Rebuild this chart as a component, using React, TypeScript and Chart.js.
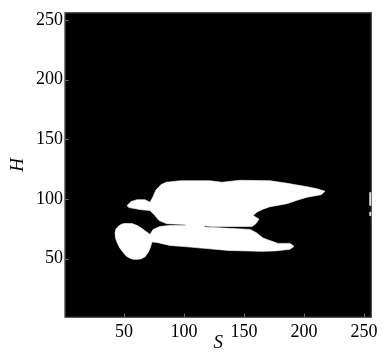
import React, { useEffect, useRef } from "react";
import { Chart, registerables } from "chart.js";

Chart.register(...registerables);

// Axis settings (image pixel indices 1..256)
const S_TICKS = [50, 100, 150, 200, 250];
const H_TICKS = [50, 100, 150, 200, 250];
const S_MIN = 0.5;
const S_MAX = 256.5;
const H_MIN = 0.5;
const H_MAX = 256.5;

// Upper white region (outline, S / H)
const UPPER_S = [52.5, 55.8, 60.8, 67.5, 71.7, 74.2, 76.7, 80.8, 85.0, 96.7, 121.7, 131.7, 146.7, 171.7, 185.8, 202.5, 210.8, 217.5, 214.2, 202.5, 194.2, 185.8, 171.7, 165.8, 160.8, 157.5, 162.5, 160.0, 156.7, 123.3, 117.5, 115.0, 103.3, 100.8, 85.8, 79.2, 75.8, 71.7, 63.3, 54.2];
const UPPER_H = [94.4, 97.8, 99.4, 99.4, 97.3, 101.9, 107.8, 111.9, 114.0, 115.3, 115.3, 114.0, 115.7, 115.3, 113.2, 110.3, 108.6, 106.5, 103.6, 101.5, 99.0, 96.1, 93.6, 91.5, 89.0, 86.1, 83.2, 79.4, 76.9, 77.0, 77.5, 75.7, 75.7, 78.6, 79.3, 81.9, 86.1, 90.3, 91.1, 92.8];

// Lower white region incl. the round lobe on the left (outline, S / H)
const LOWER_S = [74.2, 80.0, 88.3, 99.2, 117.5, 123.3, 130.0, 155.0, 160.0, 165.8, 178.3, 188.3, 191.7, 188.3, 175.8, 165.0, 136.7, 121.7, 105.0, 88.3, 77.5, 73.3, 71.7, 70.0, 67.5, 64.2, 60.8, 57.5, 55.0, 51.7, 49.2, 46.5, 44.2, 42.9, 42.5, 43.3, 45.0, 47.5, 50.0, 56.7, 61.0, 65.0, 71.7];
const LOWER_H = [74.4, 77.0, 77.8, 77.8, 76.6, 76.2, 75.8, 74.5, 71.9, 67.3, 62.8, 62.8, 60.3, 57.8, 56.5, 56.1, 56.9, 58.2, 59.7, 61.1, 63.6, 64.0, 58.6, 55.0, 51.5, 49.8, 49.4, 49.5, 50.3, 52.3, 55.3, 59.0, 63.6, 67.5, 71.9, 74.8, 76.9, 78.7, 79.4, 79.4, 77.8, 75.3, 70.3];

// Small specks at the right edge
const EDGE_BAR_S = [255.0, 256.5, 256.5, 255.0];
const EDGE_BAR_H = [94.5, 94.5, 105.5, 105.5];
const EDGE_DOT_S = [255.0, 256.5, 256.5, 255.0];
const EDGE_DOT_H = [86.0, 86.0, 89.0, 89.0];

const FONT = '"Liberation Serif", "Times New Roman", serif';

function closed(s: number[], h: number[]) {
  const pts = s.map((v, i) => ({ x: v, y: h[i] }));
  pts.push({ x: s[0], y: h[0] });
  return pts;
}

function region(s: number[], h: number[]) {
  return {
    data: closed(s, h),
    fill: "shape",
    backgroundColor: "#ffffff",
    borderColor: "#ffffff",
    borderWidth: 0.6,
    pointRadius: 0,
    pointHoverRadius: 0,
    tension: 0,
  };
}

const framePlugin = {
  id: "frame",
  beforeDatasetsDraw(chart: any) {
    const { ctx, chartArea: a } = chart;
    ctx.save();
    ctx.fillStyle = "#000000";
    ctx.fillRect(a.left, a.top, a.right - a.left, a.bottom - a.top);
    ctx.restore();
  },
  afterDatasetsDraw(chart: any) {
    const { ctx, chartArea: a, scales } = chart;
    ctx.save();
    ctx.strokeStyle = "#6e6e6e";
    ctx.lineWidth = 1;
    ctx.beginPath();
    for (const v of S_TICKS) {
      const px = Math.round(scales.x.getPixelForValue(v)) + 0.5;
      ctx.moveTo(px, a.bottom);
      ctx.lineTo(px, a.bottom - 4);
    }
    for (const v of H_TICKS) {
      const py = Math.round(scales.y.getPixelForValue(v)) + 0.5;
      ctx.moveTo(a.left, py);
      ctx.lineTo(a.left + 4, py);
    }
    ctx.stroke();
    ctx.strokeStyle = "#5a5a5a";
    ctx.strokeRect(a.left + 0.5, a.top + 0.5, a.right - a.left - 1, a.bottom - a.top - 1);
    ctx.restore();
  },
};

export default function App() {
  const canvasRef = useRef<HTMLCanvasElement | null>(null);

  useEffect(() => {
    if (!canvasRef.current) return;
    const chart = new Chart(canvasRef.current, {
      type: "line",
      data: {
        datasets: [
          region(UPPER_S, UPPER_H),
          region(LOWER_S, LOWER_H),
          region(EDGE_BAR_S, EDGE_BAR_H),
          region(EDGE_DOT_S, EDGE_DOT_H),
        ] as any,
      },
      options: {
        responsive: false,
        animation: false,
        devicePixelRatio: 1,
        layout: { padding: { top: 10.5, right: 11.2, left: 0, bottom: 0 } },
        plugins: {
          legend: { display: false },
          tooltip: { enabled: false },
        },
        events: [],
        scales: {
          x: {
            type: "linear",
            min: S_MIN,
            max: S_MAX,
            afterBuildTicks: (s: any) => {
              s.ticks = S_TICKS.map((v) => ({ value: v }));
            },
            afterFit: (s: any) => {
              s.height = 41.3;
            },
            grid: { display: false, drawTicks: false },
            border: { display: false },
            ticks: {
              autoSkip: false,
              maxRotation: 0,
              padding: 3.5,
              color: "#000000",
              font: { family: FONT, size: 18 },
            },
            title: {
              display: true,
              text: "S",
              color: "#000000",
              font: { family: FONT, size: 19, style: "italic" },
              padding: { top: 0, bottom: 5 },
            },
          },
          y: {
            type: "linear",
            min: H_MIN,
            max: H_MAX,
            afterBuildTicks: (s: any) => {
              s.ticks = H_TICKS.map((v) => ({ value: v }));
            },
            afterFit: (s: any) => {
              s.width = 64.6;
            },
            grid: { display: false, drawTicks: false },
            border: { display: false },
            ticks: {
              autoSkip: false,
              padding: 1.5,
              color: "#000000",
              font: { family: FONT, size: 18 },
            },
            title: {
              display: true,
              text: "H",
              color: "#000000",
              font: { family: FONT, size: 19, style: "italic" },
              padding: { top: 6.5, bottom: 0 },
            },
          },
        },
      } as any,
      plugins: [framePlugin],
    });
    return () => chart.destroy();
  }, []);

  return (
    <div style={{ position: "fixed", left: 0, top: 0, width: 383, height: 359, background: "#ffffff" }}>
      <canvas ref={canvasRef} width={383} height={359} style={{ display: "block", width: 383, height: 359 }} />
    </div>
  );
}
